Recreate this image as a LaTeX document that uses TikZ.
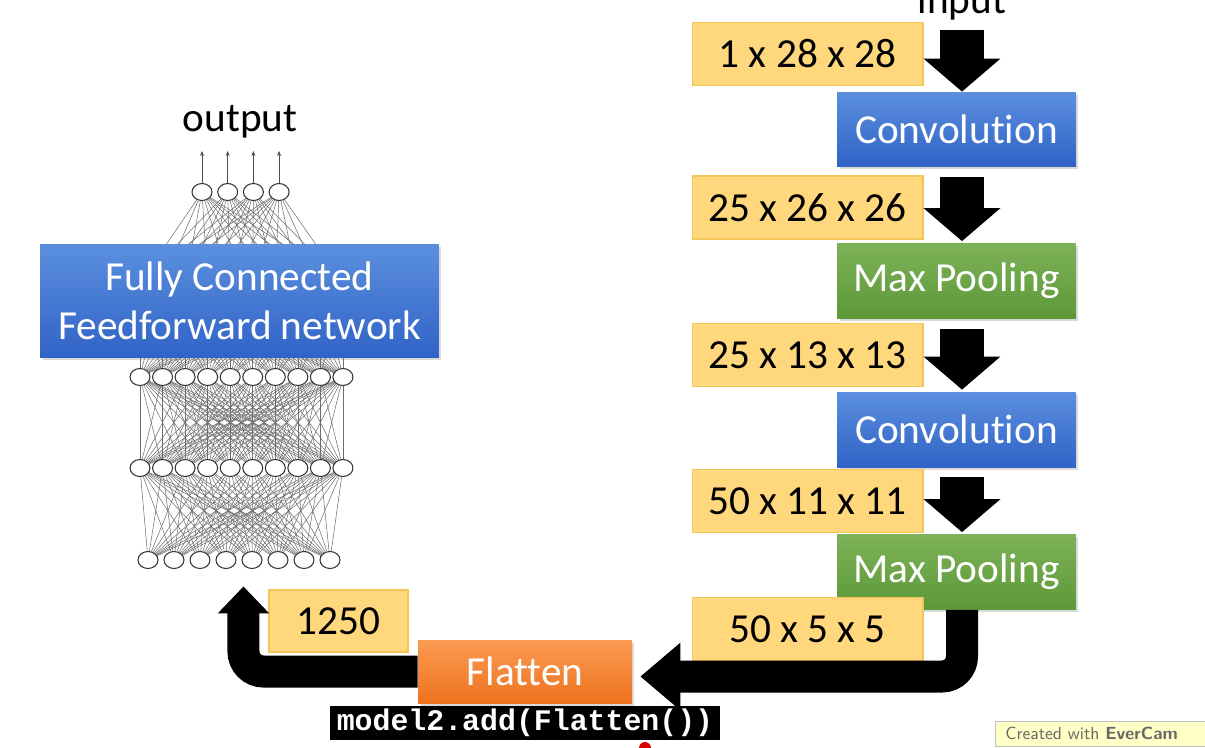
\documentclass[tikz,border=0pt]{standalone}
\usepackage{fontspec}
\setmainfont[Ligatures=NoCommon]{Carlito}
\newfontfamily\codefont{Liberation Mono}
\usetikzlibrary{arrows.meta,positioning,shapes.geometric,backgrounds,shadows}
\definecolor{dimfill}{HTML}{FFD87D}
\definecolor{dimborder}{HTML}{F3C456}
\definecolor{convtop}{HTML}{5B8FDE}
\definecolor{convbot}{HTML}{3063C6}
\definecolor{pooltop}{HTML}{7DB258}
\definecolor{poolbot}{HTML}{5C9838}
\definecolor{flattop}{HTML}{FB9A52}
\definecolor{flatbot}{HTML}{EE731F}
\definecolor{netline}{HTML}{6E6E6E}
\definecolor{notefill}{HTML}{FFFFC6}

\begin{document}
\begin{tikzpicture}[x=0.02cm, y=-0.02cm,
  bigfont/.style={font=\fontsize{23.5}{28}\selectfont},
  dimbox/.style={bigfont, fill=dimfill, draw=dimborder, line width=0.6pt,
                 minimum width=4.62cm, minimum height=1.26cm, inner sep=0pt},
  layerbox/.style={bigfont, top color=#1top, bottom color=#1bot, draw=none,
                   minimum width=4.78cm, minimum height=1.5cm, text=white, inner sep=0pt,
                   drop shadow={shadow xshift=0.05cm, shadow yshift=-0.05cm, opacity=0.3}},
  neuron/.style={ellipse, draw=black!80, fill=white, line width=0.6pt,
                 minimum width=0.4cm, minimum height=0.34cm, inner sep=0pt},
  netedge/.style={netline, line width=0.3pt},
  downarrow/.style={line width=0.88cm, -{Triangle[width=1.5cm, length=0.66cm]}},
  uarrow/.style={line width=0.64cm, rounded corners=0.4cm}
]
  \useasboundingbox (0,0) rectangle (1205,748);

  % ── Left: fully connected network ──
  \node[bigfont, anchor=base] (output) at (240,131) {output};
  \foreach \i in {1,...,4}
    \node[neuron] (o\i) at ({202+25.7*(\i-1)}, 192) {};
  \foreach \i in {1,...,10} {
    \coordinate (h\i) at ({140+22.55*(\i-1)}, 283);
    \node[neuron] (a\i) at ({140+22.55*(\i-1)}, 377) {};
    \node[neuron] (b\i) at ({140+22.55*(\i-1)}, 468) {};
  }
  \foreach \i in {1,...,8}
    \node[neuron] (c\i) at ({148+26*(\i-1)}, 560) {};

  \begin{scope}[on background layer]
    \foreach \i in {1,...,4}
      \foreach \j in {1,...,10}
        \draw[netedge] (o\i) -- (h\j);
    \foreach \i in {1,...,10}
      \foreach \j in {1,...,10} {
        \draw[netedge] (h\i) -- (a\j);
        \draw[netedge] (a\i) -- (b\j);
      }
    \foreach \i in {1,...,10}
      \foreach \j in {1,...,8}
        \draw[netedge] (b\i) -- (c\j);
  \end{scope}
  \foreach \i in {1,...,4}
    \draw[-{Stealth[length=0.1cm, width=0.08cm]}, black!70, line width=0.5pt] (o\i.north) -- ++(0,-32);

  \node[layerbox=conv, minimum width=7.98cm, minimum height=2.28cm, align=center] (fc) at (239.5,301)
    {Fully Connected\\Feedforward network};

  % ── Right: CNN stack ──
  \node[bigfont, anchor=base] (input) at (962,13) {input};
  \node[dimbox] (dim1) at (807.5,54) {1 x 28 x 28};
  \node[layerbox=conv] (conv1) at (956.5,129.5) {Convolution};
  \node[dimbox] (dim2) at (807.5,207.5) {25 x 26 x 26};
  \node[layerbox=pool] (pool1) at (956.5,281) {Max Pooling};
  \node[dimbox] (dim3) at (807.5,355) {25 x 13 x 13};
  \node[layerbox=conv] (conv2) at (956.5,429.5) {Convolution};
  \node[dimbox] (dim4) at (807.5,501) {50 x 11 x 11};
  \node[layerbox=pool] (pool2) at (956.5,572) {Max Pooling};
  \node[dimbox] (dim5) at (807.5,629) {50 x 5 x 5};

  \draw[downarrow, shorten <=0.08cm] (input.south) -- (conv1.north -| input);
  \draw[downarrow, shorten <=0.2cm, shorten >=0.04cm] (conv1.south -| input) -- (pool1.north -| input);
  \draw[downarrow, shorten <=0.2cm, shorten >=0.04cm] (pool1.south -| input) -- (conv2.north -| input);
  \draw[downarrow, shorten <=0.2cm, shorten >=0.04cm] (conv2.south -| input) -- (pool2.north -| input);

  % ── Bottom: flatten ──
  \node[layerbox=flat, minimum width=4.28cm, minimum height=1.26cm] (flatten) at (525,671.5) {Flatten};
  \node[dimbox, minimum width=2.78cm, minimum height=1.24cm] (n1250) at (338.5,621) {1250};
  \node[fill=black, text=white, minimum width=7.8cm, minimum height=0.68cm, inner sep=0pt,
        font=\codefont\bfseries\fontsize{17}{20}\selectfont] (code) at (525,723) {model2.add(Flatten())};

  \draw[uarrow, -{Triangle[width=1.3cm, length=0.8cm]}]
    (pool2.south -| input) |- ([shift={(8,5)}]flatten.east);
  \draw[uarrow, -{Triangle[width=1cm, length=0.54cm]}]
    (flatten.west) -| ([shift={(-25,-3)}]n1250.north west);

  \fill[red!85!black] (645,748) circle (6);

  % recorder note
  \node[anchor=north west, fill=notefill, draw=black!25, text width=4.6cm, align=left,
        inner xsep=0.2cm, inner ysep=0.12cm, text=black!60, font=\sffamily\fontsize{10}{11}\selectfont]
    (note) at (995,721) {Created with \textbf{EverCam}};
\end{tikzpicture}
\end{document}
